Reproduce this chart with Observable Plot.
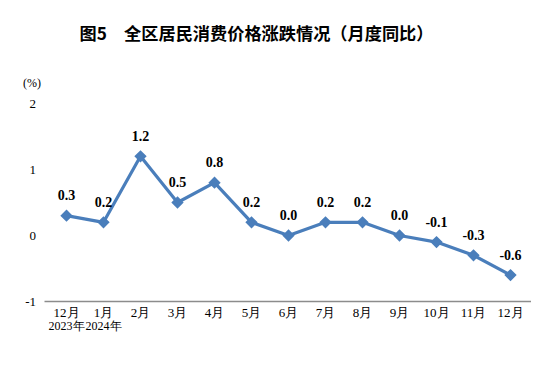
<!DOCTYPE html>
<html><head><meta charset="utf-8">
<script src="https://cdn.jsdelivr.net/npm/d3@7"></script>
<script src="https://cdn.jsdelivr.net/npm/@observablehq/plot@0.6"></script>
<style>
body{margin:0;background:#fff;width:550px;height:388px;overflow:hidden}
#title{height:50px;box-sizing:border-box;padding-top:23px;width:513px;text-align:center;font-family:"Noto Sans CJK SC",sans-serif;font-weight:bold;font-size:17.2px;line-height:20px;color:#000;white-space:pre}
svg text{font-family:"Liberation Serif","Times New Roman",serif}
</style></head><body>
<div id="title">图5　全区居民消费价格涨跌情况（月度同比）</div>
<div id="chart"></div>
<script>
const months = ["12月","1月","2月","3月","4月","5月","6月","7月","8月","9月","10月","11月","12月"];
const years = ["2023年","2024年","","","","","","","","","","",""];
const values = [0.3,0.2,1.2,0.5,0.8,0.2,0.0,0.2,0.2,0.0,-0.1,-0.3,-0.6];
const yTicks = [-1,0,1,2];

const data = values.map((v,i)=>({i, v}));
const color = "#4a7ebb";
const serif = "Liberation Serif";

const chart = Plot.plot({
  width: 550,
  height: 338,
  marginTop: 53,
  marginBottom: 87,
  marginLeft: 44.5,
  marginRight: 19,
  style: {fontFamily: serif, fontSize: "13px", color: "#000", background: "#fff"},
  x: {type: "point", domain: d3.range(months.length), padding: 0.5},
  y: {domain: [-1, 2]},
  marks: [
    Plot.axisY({ticks: yTicks, tickSize: 0, tickPadding: 9, tickFormat: d=>String(d), label: null, fontSize: 13, fontFamily: serif}),
    Plot.axisX({tickSize: 0, tickPadding: 6, label: null, fontSize: 13, fontFamily: serif,
      tickFormat: i => months[i]}),
    Plot.axisX({tickSize: 0, tickPadding: 20, label: null, fontSize: 12, fontFamily: serif,
      ticks: d3.range(months.length).filter(i => years[i]), tickFormat: i => years[i]}),
    Plot.ruleY([-1], {stroke: "#8c8c8c", strokeWidth: 1.3}),
    Plot.line(data, {x: "i", y: "v", stroke: color, strokeWidth: 3.2}),
    Plot.dot(data, {x: "i", y: "v", symbol: "diamond2", r: 4.6, fill: color, stroke: color}),
    Plot.text(data, {x: "i", y: "v", text: d=>d.v.toFixed(1), dy: -20, fontWeight: "bold", fontSize: 14, fontFamily: serif, fill: "#000"}),
    Plot.text(["(%)"], {frameAnchor: "top-left", text: d=>d, dx: -22, dy: -25, textAnchor: "start", fontSize: 12, fontFamily: serif})
  ]
});
document.getElementById("chart").appendChild(chart);
</script>
</body></html>
